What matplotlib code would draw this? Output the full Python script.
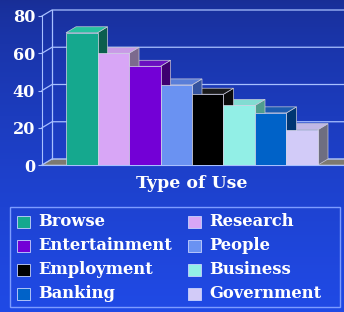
import numpy as np
import matplotlib
matplotlib.use("Agg")
import matplotlib.pyplot as plt
from matplotlib.patches import Polygon, Rectangle

categories = ["Browse", "Research", "Entertainment", "People",
              "Employment", "Business", "Banking", "Government"]
values = [71, 60, 53, 43, 38, 32, 28, 19]
front_colors = ["#15a88e", "#d8a6f6", "#7300d6", "#6a92f2",
                "#000000", "#92efe6", "#0062c8", "#d2cbf8"]
side_colors = ["#0b5e4e", "#7c6a8e", "#3e0070", "#34539e",
               "#0c0c0c", "#4f9c8e", "#003672", "#6e6e80"]
top_colors = ["#27c29f", "#c89ae6", "#6a10c0", "#5a7ed8",
              "#1a1a1a", "#82dcd2", "#1c5cb0", "#c0b8e6"]
yticks = [0, 20, 40, 60, 80]

W, H = 344, 312
fig = plt.figure(figsize=(W / 100, H / 100), dpi=100)

# gradient background
bg = fig.add_axes([0, 0, 1, 1])
grad = np.linspace(0, 1, 256)[:, None]
top_c = np.array([24, 46, 150]) / 255
bot_c = np.array([32, 74, 230]) / 255
img = top_c + (bot_c - top_c) * grad[..., None] ** 0.7
bg.imshow(img, aspect="auto", extent=[0, 1, 0, 1], origin="upper")
bg.axis("off")

# main axes, pixel layout
px_left, px_right = 42, 344
px_top, px_bottom = 16, 165
ax = fig.add_axes([px_left / W, 1 - px_bottom / H,
                   (px_right - px_left) / W, (px_bottom - px_top) / H])
ax.patch.set_alpha(0)
bar_px = 31.5
x0 = -0.5 - (66 - px_left) / bar_px
x1 = x0 + (px_right - px_left) / bar_px
ax.set_xlim(x0, x1)
ax.set_ylim(0, 80)
dx = 10 / bar_px
dy = 6 * 80 / (px_bottom - px_top)

# floor
ax.add_patch(Polygon([[x0, 0], [x1, 0], [x1 + dx, dy], [x0 + dx, dy]],
                     closed=True, facecolor="#7d7a70", edgecolor="#b0b0b0",
                     lw=0.6, zorder=1, clip_on=False))

# back wall grid
grid_c = "#a8c0ff"
ax.plot([x0 + dx, x0 + dx], [dy, 80 + dy], color=grid_c, lw=0.9,
        zorder=1.5, clip_on=False)
for t in yticks:
    ax.plot([x0, x0 + dx, x1 + dx], [t, t + dy, t + dy], color=grid_c,
            lw=0.9, zorder=1.5, clip_on=False)

# bars
xs = np.arange(len(values))
ax.bar(xs, values, width=1.0, color=front_colors, edgecolor="#d8d8e8",
       linewidth=0.5, zorder=3)
for i, v in enumerate(values):
    l, r = i - 0.5, i + 0.5
    ax.add_patch(Polygon([[r, 0], [r + dx, dy], [r + dx, v + dy], [r, v]],
                         closed=True, facecolor=side_colors[i],
                         edgecolor="#c8c8d8", lw=0.5, zorder=2.5 - i * 0.01))
    ax.add_patch(Polygon([[l, v], [l + dx, v + dy], [r + dx, v + dy], [r, v]],
                         closed=True, facecolor=top_colors[i],
                         edgecolor="#c8c8d8", lw=0.5, zorder=2.5 - i * 0.01))

for s in ["top", "right"]:
    ax.spines[s].set_visible(False)
ax.spines["left"].set_color(grid_c)
ax.spines["bottom"].set_color(grid_c)
ax.spines["left"].set_zorder(4)
ax.set_xticks([])
ax.set_yticks(yticks)
ax.tick_params(axis="y", colors=grid_c, length=3, width=0.8, pad=2)
for lab in ax.get_yticklabels():
    lab.set_color("white")
    lab.set_fontfamily("DejaVu Serif")
    lab.set_fontweight("bold")
    lab.set_fontsize(11.5)

fig.text(192 / W, 1 - 183 / H, "Type of Use", color="white",
         fontfamily="DejaVu Serif", fontweight="bold", fontsize=12.5,
         ha="center", va="center")

# legend box
fig.patches.append(Rectangle((10 / W, 1 - 307 / H), 330 / W, 100 / H,
                             transform=fig.transFigure, fill=False,
                             edgecolor="#7d9cff", lw=1.0))
row_y = [222, 246, 270, 294]
col_x = [17, 188]
for i, name in enumerate(categories):
    cx = col_x[i % 2]
    cy = row_y[i // 2]
    fig.patches.append(Rectangle((cx / W, 1 - (cy + 6) / H), 13 / W, 12 / H,
                                 transform=fig.transFigure,
                                 facecolor=front_colors[i],
                                 edgecolor="#c8d4ff", lw=0.6))
    fig.text((cx + 21) / W, 1 - cy / H, name, color="white",
             fontfamily="DejaVu Serif", fontweight="bold", fontsize=11.8,
             ha="left", va="center")

fig.savefig("out.png", dpi=100)
